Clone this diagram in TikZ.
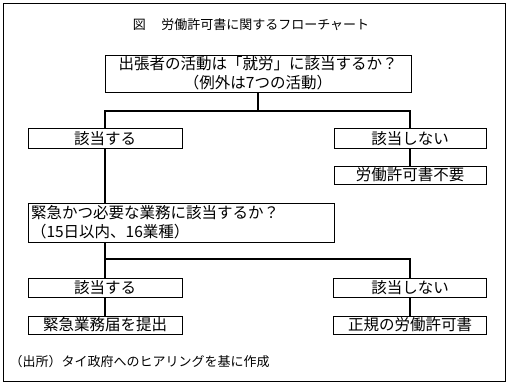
\documentclass[tikz,border=0pt]{standalone}
\usepackage{fontspec}
\setmainfont{Noto Sans CJK JP}
\usetikzlibrary{positioning,calc}

\begin{document}
\begin{tikzpicture}[
  x=1pt, y=-1pt,
  box/.style={draw, line width=0.8pt, fill=white, inner ysep=0pt, minimum height=19pt, font=\fontsize{15.5}{19}\selectfont},
  note/.style={font=\fontsize{13}{15}\selectfont},
  link/.style={line width=1.5pt}
]
  \useasboundingbox (0,0) rectangle (510,385);
  \draw[line width=0.8pt] (3,3) rectangle (505,381);

  \node[note] (title) at (251,25) {図\hspace{1.2em}労働許可書に関するフローチャート};

  \node[box, minimum width=306pt, minimum height=37pt, align=center] (q1) at (258,73.5) {出張者の活動は「就労」に該当するか？\\（例外は7つの活動）};
  \node[box, minimum width=154pt, minimum height=20pt] (yes1) at (105,138.5) {該当する};
  \node[box, minimum width=152pt, minimum height=20pt] (no1) at (410,138.5) {該当しない};
  \node[box, minimum width=152pt, minimum height=18pt] (noneed) at (410,175) {労働許可書不要};

  \node[box, text width=300pt, inner xsep=3pt, minimum height=39pt, align=left] (q2) at (181,222.5) {緊急かつ必要な業務に該当するか？\\（15日以内、16業種）};

  \node[box, minimum width=154pt] (yes2) at (105,287.5) {該当する};
  \node[box, minimum width=153pt] (no2) at (410,287.5) {該当しない};
  \node[box, minimum width=154pt, minimum height=18pt] (apply) at (105,325) {緊急業務届を提出};
  \node[box, minimum width=153pt, minimum height=18pt] (regular) at (410,325) {正規の労働許可書};

  \node[note, anchor=west] (source) at (6,362) {（出所）タイ政府へのヒアリングを基に作成};

  \coordinate (split1) at (258,111);
  \coordinate (split2) at (105,259);
  \draw[link] (q1) -- (split1);
  \draw[link] (split1) -| (yes1);
  \draw[link] (split1) -| (no1);
  \draw[link] (no1) -- (noneed);
  \draw[link] (yes1) -- (yes1 |- q2.north);
  \draw[link] (yes1 |- q2.south) -- (split2) -- (yes2);
  \draw[link] (split2) -| (no2);
  \draw[link] (yes2) -- (apply);
  \draw[link] (no2) -- (regular);
\end{tikzpicture}
\end{document}
